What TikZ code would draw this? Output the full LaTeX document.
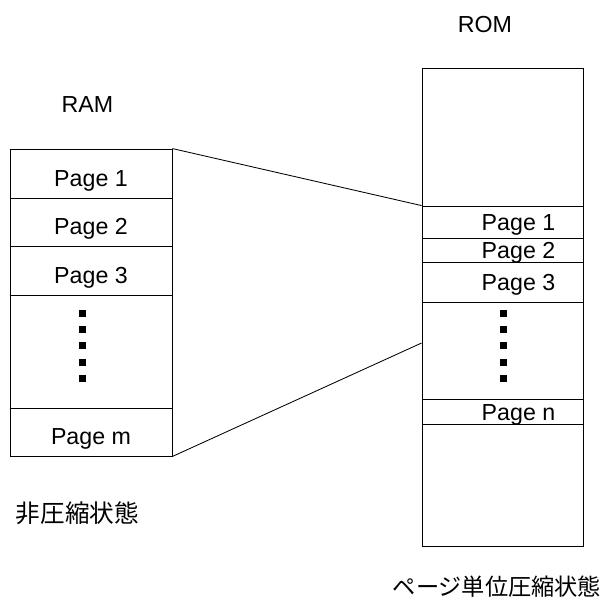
\documentclass[tikz,border=0pt]{standalone}
\usepackage{fontspec}
\setmainfont{Liberation Sans}
\newfontfamily\jpfont{Noto Sans CJK JP}
\usepackage{tikz}
\usetikzlibrary{positioning,calc}

\begin{document}
\begin{tikzpicture}[
    x=0.025cm, y=-0.025cm,
    pagefont/.style={font=\fontsize{16.5}{19}\selectfont},
    cell/.style={draw, line width=0.6pt, inner sep=0pt},
    ramcell/.style={cell, minimum width=4.05cm, label={[pagefont, yshift=-0.175cm]center:#1}},
    ramcell/.default={},
    romcell/.style={cell, minimum width=4.025cm, label={[pagefont, xshift=0.4cm, yshift=-0.08cm]center:#1}},
    romcell/.default={},
    link/.style={line width=0.6pt},
    title/.style={pagefont},
    state/.style={font=\jpfont\fontsize{17.5}{20}\selectfont},
    dot/.style={fill=black}
]
\useasboundingbox (0,0) rectangle (604,601);

% RAM (uncompressed)
\node[title] (ramlabel) at (87.5,105) {RAM};
\node[ramcell=Page 1, minimum height=1.225cm] (ram1) at (91,173.5) {};
\node[ramcell=Page 2, minimum height=1.2cm] (ram2) at (91,222) {};
\node[ramcell=Page 3, minimum height=1.225cm] (ram3) at (91,270.5) {};
\node[ramcell, minimum height=2.825cm] (ramdots) at (91,351.5) {};
\node[ramcell=Page m, minimum height=1.2cm] (ramm) at (91,432) {};
\node[state] (ramstate) at (77.5,513) {非圧縮状態};

% ROM (compressed per page)
\node[title] (romlabel) at (485,25) {ROM};
\node[romcell, minimum height=3.45cm] (romtop) at (502.5,137) {};
\node[romcell=Page 1, minimum height=0.8cm] (rom1) at (502.5,222) {};
\node[romcell=Page 2, minimum height=0.6cm] (rom2) at (502.5,250) {};
\node[romcell=Page 3, minimum height=1.0cm] (rom3) at (502.5,282) {};
\node[romcell, minimum height=2.425cm] (romdots) at (502.5,350.5) {};
\node[romcell=Page n, minimum height=0.625cm] (romn) at (502.5,411.5) {};
\node[romcell, minimum height=3.05cm] (rombottom) at (502.5,485) {};
\node[state, font=\jpfont\fontsize{16.5}{20}\selectfont] (romstate) at (497,587) {ページ単位圧縮状態};

% Ellipsis squares
\foreach \y in {313,329,345,362,378} {
  \fill[dot] (82-3.5,\y-3.5) rectangle (82+3.5,\y+3.5);
  \fill[dot] (503-3.5,\y-3.5) rectangle (503+3.5,\y+3.5);
}

% Mapping lines
\coordinate (romend) at (romdots.west |- 0,343);
\draw[link] (ram1.north east) -- (rom1.north west);
\draw[link] (ramm.south east) -- (romend);

\end{tikzpicture}
\end{document}
